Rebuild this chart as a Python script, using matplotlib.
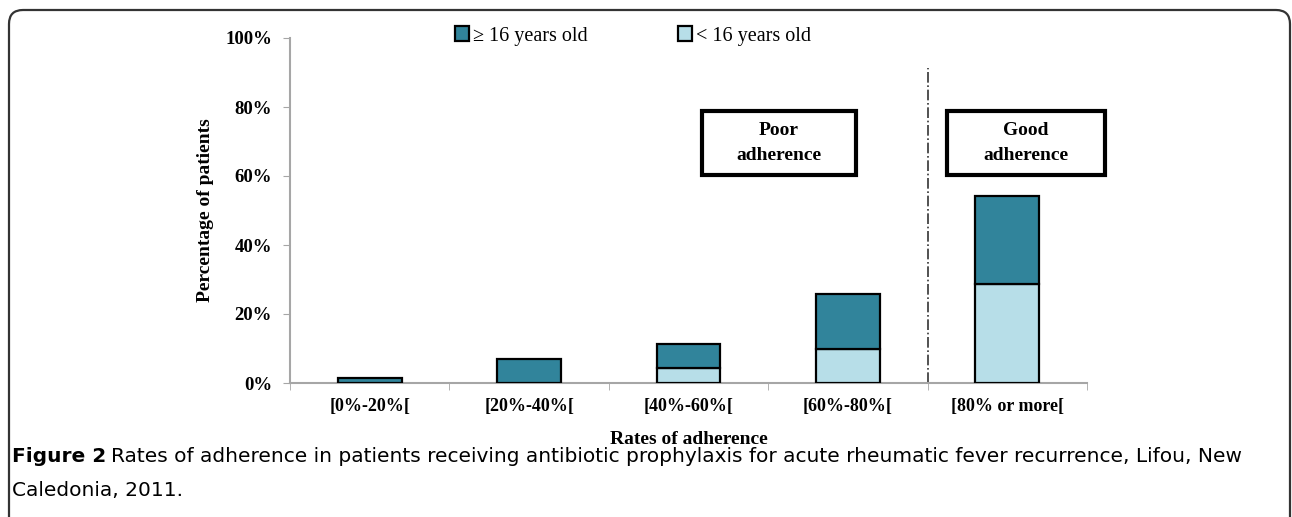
"""Rates of adherence, stacked bars by age group."""
import matplotlib
matplotlib.use('Agg')
import matplotlib.pyplot as plt
from matplotlib.patches import FancyBboxPatch, Rectangle
from matplotlib.transforms import IdentityTransform

plt.rcParams.update({
    'font.family': ['Liberation Serif', 'DejaVu Serif'],
    'font.size': 12,
})

categories = ['[0%-20%[', '[20%-40%[', '[40%-60%[', '[60%-80%[', '[80% or more[']
under16 = [0, 0, 4.3, 10.0, 28.6]      # % of patients < 16 years old
over16 = [1.4, 7.1, 7.1, 15.7, 25.7]   # % of patients >= 16 years old
yticks = [0, 20, 40, 60, 80, 100]

dark = '#31849B'
light = '#B7DEE8'
gray = '#A6A6A6'

fig = plt.figure(figsize=(12.92, 5.17), dpi=100)
ax = fig.add_axes([290 / 1292, 134 / 517, 797 / 1292, 345 / 517])

x = list(range(len(categories)))
b1 = ax.bar(x, under16, width=0.4, color=light, edgecolor='black', linewidth=1.6,
            label='< 16 years old', zorder=3)
b2 = ax.bar(x, over16, width=0.4, bottom=under16, color=dark, edgecolor='black',
            linewidth=1.6, label='\u2265 16 years old', zorder=3)

ax.set_xlim(-0.5, 4.5)
ax.set_ylim(0, 100)
ax.set_yticks(yticks)
ax.set_yticklabels([f'{v}%' for v in yticks], fontweight='bold', fontsize=13.5)
ax.set_xticks(x)
ax.set_xticklabels(categories, fontweight='bold', fontsize=13)
ax.set_xticks([i - 0.5 for i in range(len(categories) + 1)], minor=True)
ax.tick_params(axis='x', which='major', length=0, pad=11)
ax.tick_params(axis='x', which='minor', length=5, color=gray, direction='out')
ax.tick_params(axis='y', length=5, color=gray, direction='out', pad=8)

for side in ['top', 'right']:
    ax.spines[side].set_visible(False)
for side in ['left', 'bottom']:
    ax.spines[side].set_color(gray)
    ax.spines[side].set_linewidth(1.5)

ax.set_ylabel('Percentage of patients', fontweight='bold', fontsize=14, labelpad=8)
ax.set_xlabel('Rates of adherence', fontweight='bold', fontsize=14, labelpad=11)

# separator between poor and good adherence
ax.plot([3.5, 3.5], [0, 91.3], color='#333333', lw=1.2, ls='-.', zorder=2, clip_on=False)

# annotation boxes
for x0, x1, txt in [(2.085, 3.05, 'Poor\nadherence'), (3.62, 4.61, 'Good\nadherence')]:
    ax.add_patch(Rectangle((x0, 60.3), x1 - x0, 18.6, fill=False, edgecolor='black',
                           linewidth=3, clip_on=False, zorder=4))
    ax.text((x0 + x1) / 2, 69.6, txt, ha='center', va='center', fontsize=14,
            fontweight='bold', linespacing=1.6)

fig.legend(handles=[b2, b1], loc='center', bbox_to_anchor=(633 / 1292, 1 - 36 / 517),
           ncol=2, frameon=False, fontsize=14.5, handlelength=0.7, handleheight=0.7,
           handletextpad=0.2, columnspacing=4.5)

# outer rounded frame, in pixels
frame = FancyBboxPatch((9, -60), 1281, 567, boxstyle='round,pad=0,rounding_size=14',
                       transform=IdentityTransform(), fill=False, edgecolor='#333333',
                       linewidth=1.6)
fig.patches.append(frame)

# caption: bold lead-in, regular rest, sized to the reference line width
cap_font = ['DejaVu Sans']
cap_rest = ('Rates of adherence in patients receiving antibiotic prophylaxis for acute '
            'rheumatic fever recurrence, Lifou, New')
y1, y2 = 1 - 456 / 517, 1 - 491 / 517
renderer = fig.canvas.get_renderer()
size = 14
for _ in range(3):
    t1 = fig.text(12 / 1292, y1, 'Figure 2', fontsize=size, fontweight='bold',
                  family=cap_font, va='center')
    e1 = t1.get_window_extent(renderer)
    t2 = fig.text((e1.x1 + 5) / 1292, y1, cap_rest, fontsize=size, family=cap_font,
                  va='center')
    e2 = t2.get_window_extent(renderer)
    scale = (1243 - 12) / (e2.x1 - 12)
    t1.remove()
    t2.remove()
    size *= scale
t1 = fig.text(12 / 1292, y1, 'Figure 2', fontsize=size, fontweight='bold',
              family=cap_font, va='center')
e1 = t1.get_window_extent(renderer)
fig.text((e1.x1 + 5) / 1292, y1, cap_rest, fontsize=size, family=cap_font, va='center')
fig.text(12 / 1292, y2, 'Caledonia, 2011.', fontsize=size, family=cap_font, va='center')

fig.savefig('out.png', dpi=100)
